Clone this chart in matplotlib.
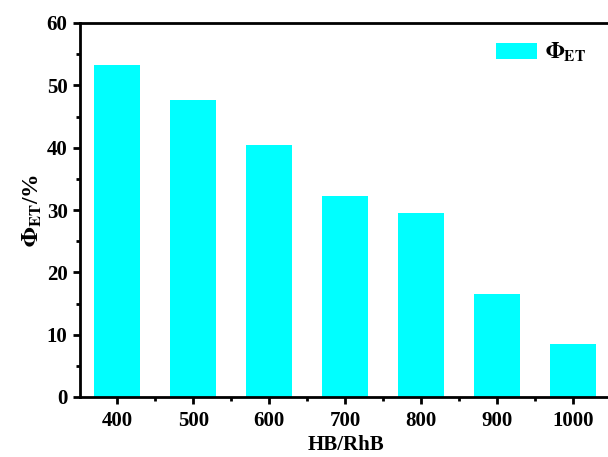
import numpy as np
import matplotlib
matplotlib.use("Agg")
import matplotlib.pyplot as plt
from matplotlib.ticker import MultipleLocator, FixedLocator

ratios = ["400", "500", "600", "700", "800", "900", "1000"]
phi_et = [53.3, 47.6, 40.4, 32.2, 29.5, 16.5, 8.5]

plt.rcParams['font.family'] = 'Liberation Serif'
plt.rcParams['font.weight'] = 'bold'
plt.rcParams['mathtext.fontset'] = 'stix'

fig = plt.figure(figsize=(6.08, 4.57), dpi=100)
# right spine sits just past the figure edge
ax = fig.add_axes([80 / 608, 1 - 397 / 457, 531 / 608, 374 / 457])

x = np.arange(len(ratios))
ax.bar(x, phi_et, width=0.6, color='#00ffff', label=r'$\mathbf{\Phi_{ET}}$')

ax.set_xlim(-0.49, 6.5)
ax.set_ylim(0, 60)
ax.set_xticks(x)
ax.set_xticklabels(ratios)
ax.xaxis.set_minor_locator(FixedLocator(x[:-1] + 0.5))
ax.yaxis.set_major_locator(MultipleLocator(10))
ax.yaxis.set_minor_locator(MultipleLocator(5))

for s in ax.spines.values():
    s.set_linewidth(2.0)
ax.spines['right'].set_visible(False)
ax.tick_params(which='major', direction='out', length=5, width=2.0, labelsize=15)
ax.tick_params(which='minor', direction='out', length=3, width=2.0)
ax.tick_params(axis='x', pad=5)
ax.tick_params(axis='y', pad=4)

ax.set_xlabel('HB/RhB', fontsize=15, fontweight='bold', labelpad=3)
ax.set_ylabel(r'$\mathbf{\Phi_{ET}}$/%', fontsize=17, fontweight='bold', labelpad=2)

ax.legend(loc='upper left', bbox_to_anchor=(496 / 608, 1 - 41 / 457),
          bbox_transform=fig.transFigure, borderpad=0, borderaxespad=0,
          frameon=False, fontsize=16, handlelength=1.85, handleheight=0.7,
          handletextpad=0.35)

fig.savefig('out.png', dpi=100)
